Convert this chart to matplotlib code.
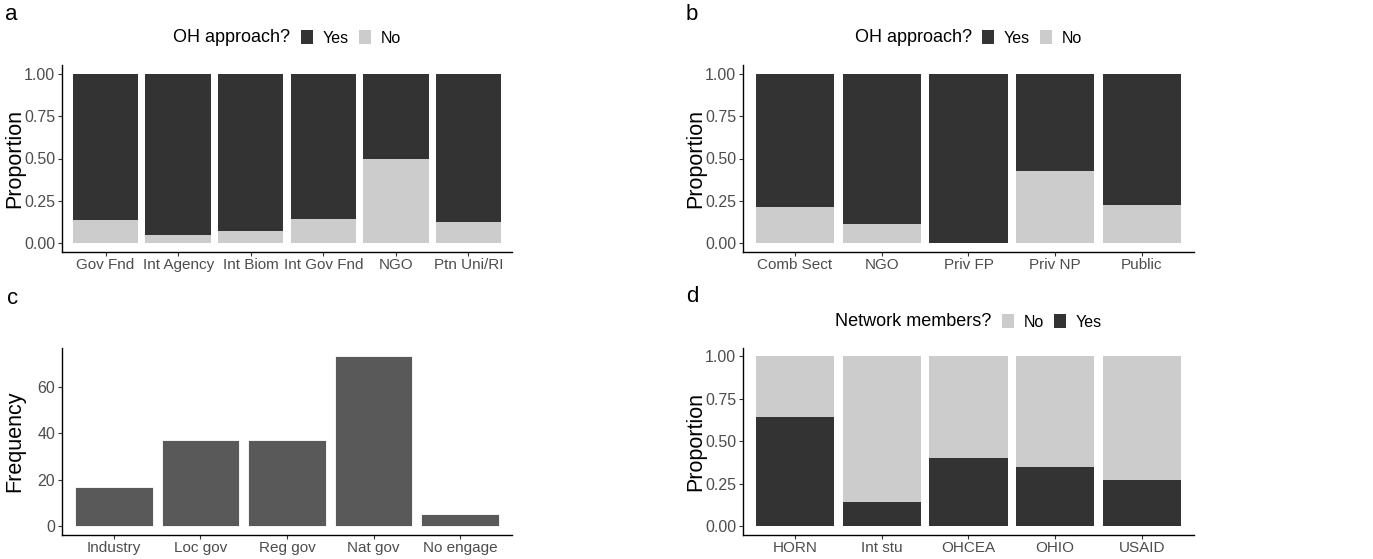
import numpy as np
import matplotlib
matplotlib.use("Agg")
import matplotlib.pyplot as plt
from matplotlib.patches import Patch

# a. OH approach by funder type (proportion answering "No")
funders = ["Gov Fnd", "Int Agency", "Int Biom", "Int Gov Fnd", "NGO", "Ptn Uni/RI"]
funders_no = [0.134, 0.047, 0.073, 0.142, 0.50, 0.126]

# b. OH approach by sector (proportion answering "No")
sectors = ["Comb Sect", "NGO", "Priv FP", "Priv NP", "Public"]
sectors_no = [0.213, 0.112, 0.0, 0.429, 0.224]

# c. engagement frequency
engage = ["Industry", "Loc gov", "Reg gov", "Nat gov", "No engage"]
engage_freq = [17, 37, 37, 73, 5]

# d. network members (proportion answering "Yes")
networks = ["HORN", "Int stu", "OHCEA", "OHIO", "USAID"]
networks_yes = [0.642, 0.142, 0.402, 0.346, 0.270]

DARK = "#333333"
LIGHT = "#CCCCCC"
MID = "#595959"
TICK_COL = "#4D4D4D"

plt.rcParams["font.family"] = ["Liberation Sans", "DejaVu Sans"]

W, H = 1373, 559
fig = plt.figure(figsize=(W / 100, H / 100), dpi=100)


def px_axes(left, top, right, bottom):
    return fig.add_axes([left / W, 1 - bottom / H, (right - left) / W, (bottom - top) / H])


def style(ax, ncat, ylabel):
    ax.set_xlim(0.4, ncat + 0.6)
    for s in ["top", "right"]:
        ax.spines[s].set_visible(False)
    for s in ["left", "bottom"]:
        ax.spines[s].set_linewidth(1.0)
    ax.tick_params(axis="both", length=3, width=0.8, color="#333333",
                   labelcolor=TICK_COL, pad=2)
    ax.tick_params(axis="x", labelsize=11)
    ax.tick_params(axis="y", labelsize=11.5)
    ax.set_ylabel(ylabel, fontsize=15.5)
    # right edge of the y label sits ~37 px left of the spine
    bb = ax.get_position()
    ax.yaxis.set_label_coords(-37 / (bb.width * W), 0.5)


def prop_axis(ax):
    ax.set_ylim(-0.05, 1.05)
    ax.set_yticks([0, 0.25, 0.5, 0.75, 1.0])
    ax.set_yticklabels(["0.00", "0.25", "0.50", "0.75", "1.00"])


def legend_row(ax, title, y, labels, colors):
    # ggplot-style legend: title on the same row, whole group centred over the panel
    t = fig.text(0, 1 - y / H, title, fontsize=13, va="center", ha="left")
    handles = [Patch(facecolor=c, edgecolor="none") for c in colors]
    leg = ax.legend(handles, labels, ncol=len(labels), frameon=False, fontsize=11.5,
                    loc="center left", bbox_to_anchor=(0, 1 - y / H),
                    bbox_transform=fig.transFigure, handlelength=0.75, handleheight=0.95,
                    handletextpad=0.6, columnspacing=0.65, borderpad=0, borderaxespad=0)
    fig.canvas.draw()
    r = fig.canvas.get_renderer()
    tw = t.get_window_extent(r).width
    lw = leg.get_window_extent(r).width
    gap = 10
    axb = ax.get_window_extent(r)
    x0 = (axb.x0 + axb.x1) / 2 - (tw + gap + lw) / 2
    t.set_x(x0 / W)
    leg.set_bbox_to_anchor(((x0 + tw + gap) / W, 1 - y / H), transform=fig.transFigure)


# panel a
ax_a = px_axes(62, 65.5, 512, 251.5)
x = np.arange(1, len(funders) + 1)
no = np.array(funders_no)
ax_a.bar(x, no, width=0.9, color=LIGHT)
ax_a.bar(x, 1 - no, bottom=no, width=0.9, color=DARK)
prop_axis(ax_a)
ax_a.set_xticks(x)
ax_a.set_xticklabels(funders)
style(ax_a, len(funders), "Proportion")
legend_row(ax_a, "OH approach?", 38, ["Yes", "No"], [DARK, LIGHT])

# panel b
ax_b = px_axes(743, 65.5, 1194, 251.5)
x = np.arange(1, len(sectors) + 1)
no = np.array(sectors_no)
ax_b.bar(x, no, width=0.9, color=LIGHT)
ax_b.bar(x, 1 - no, bottom=no, width=0.9, color=DARK)
prop_axis(ax_b)
ax_b.set_xticks(x)
ax_b.set_xticklabels(sectors)
style(ax_b, len(sectors), "Proportion")
legend_row(ax_b, "OH approach?", 38, ["Yes", "No"], [DARK, LIGHT])

# panel c
ax_c = px_axes(62, 348, 512, 534.5)
x = np.arange(1, len(engage) + 1)
ax_c.bar(x, engage_freq, width=0.9, color=MID, edgecolor="white", linewidth=0.6)
ax_c.set_ylim(-0.05 * max(engage_freq), 1.05 * max(engage_freq))
ax_c.set_yticks([0, 20, 40, 60])
ax_c.set_xticks(x)
ax_c.set_xticklabels(engage)
style(ax_c, len(engage), "Frequency")

# panel d
ax_d = px_axes(743, 348, 1194, 534.5)
x = np.arange(1, len(networks) + 1)
yes = np.array(networks_yes)
ax_d.bar(x, yes, width=0.9, color=DARK)
ax_d.bar(x, 1 - yes, bottom=yes, width=0.9, color=LIGHT)
prop_axis(ax_d)
ax_d.set_xticks(x)
ax_d.set_xticklabels(networks)
style(ax_d, len(networks), "Proportion")
legend_row(ax_d, "Network members?", 322, ["No", "Yes"], [LIGHT, DARK])

# panel letters
for lab, (px, py) in {"a": (5, 14), "b": (686, 14), "c": (7, 298), "d": (686, 297)}.items():
    fig.text(px / W, 1 - py / H, lab, fontsize=16, va="center", ha="left")

fig.savefig("out.png", dpi=100)
